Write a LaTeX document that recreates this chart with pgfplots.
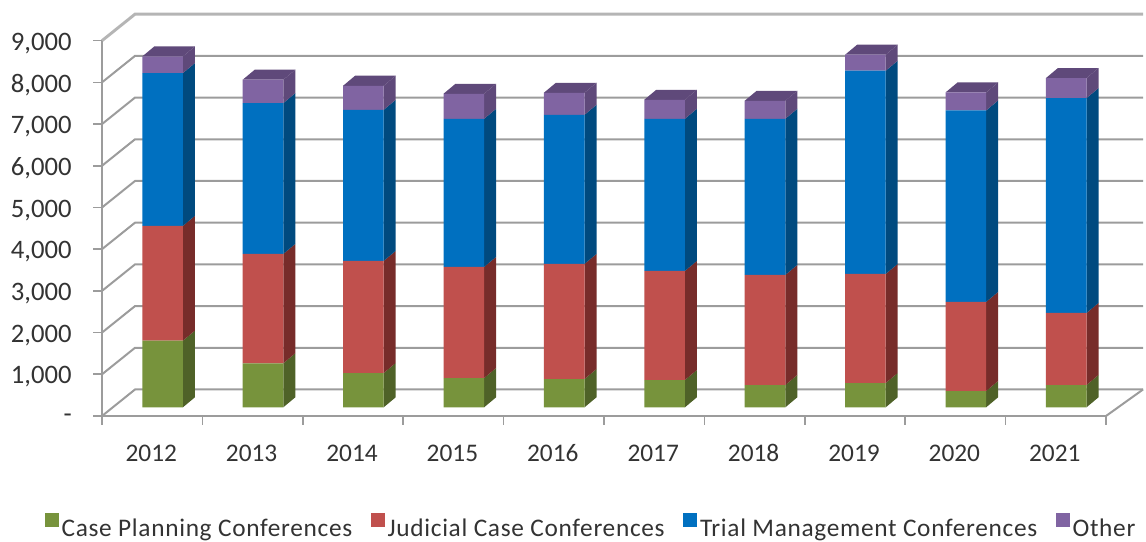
\documentclass[border=0pt]{standalone}
\usepackage{pgfplots}
\pgfplotsset{compat=1.18}
\usepackage{pgfplotstable}
\usepackage{fontspec}
\setmainfont{Carlito}
\newfontfamily\legfont[LetterSpace=2.7]{Carlito}

\definecolor{grn}{HTML}{77933C}\definecolor{grnS}{HTML}{4F6228}
\definecolor{rd}{HTML}{C0504D}\definecolor{rdS}{HTML}{772C2A}
\definecolor{blu}{HTML}{0070C0}\definecolor{bluS}{HTML}{004A7F}
\definecolor{prp}{HTML}{8064A2}\definecolor{prpS}{HTML}{5F497A}
\definecolor{wall}{HTML}{9C9C9C}

\pgfplotstableread{
year  plan  judicial trial other
2012  1598  2753     3664  399
2013  1056  2623     3616  560
2014  823   2688     3624  576
2015  703   2664     3552  600
2016  679   2760     3576  528
2017  655   2616     3648  456
2018  535   2640     3744  432
2019  583   2616     4872  384
2020  391   2136     4591  432
2021  535   1728     5152  480
}\conf

% side face of one stacked segment, from lo to hi at category #1
\newcommand\sideface[4]{%
  \pgfmathsetmacro\xa{#1+0.2022}\pgfmathsetmacro\xb{#1+0.3217}%
  \pgfmathsetmacro\ya{#2+240}\pgfmathsetmacro\yb{#3+240}%
  \edef\tmp{\noexpand\addplot[barshift,fill=#4,draw=none] coordinates
    {(\xa,#2) (\xb,\ya) (\xb,\yb) (\xa,#3)} --cycle;}\tmp}
\newcommand\topface[3]{% category, total, colour
  \pgfmathsetmacro\xa{#1-0.2022}\pgfmathsetmacro\xb{#1+0.2022}\pgfmathsetmacro\xc{#1+0.3217}%
  \pgfmathsetmacro\xd{#1-0.0827}\pgfmathsetmacro\ya{#2+240}%
  \edef\tmp{\noexpand\addplot[barshift,fill=#3,draw=none] coordinates
    {(\xa,#2) (\xb,#2) (\xc,\ya) (\xd,\ya)} --cycle;}\tmp}

\pgfplotsset{
  barshift/.style={xshift=7.8pt,yshift=6.5pt},
  common/.style={
    scale only axis, width=753pt, height=281.5pt,
    xmin=2011.5, xmax=2021.5, ymin=0, ymax=9000, clip=false,
  },
}

\begin{document}
\begin{tikzpicture}
\path[use as bounding box] (-76.5pt,-94.5pt) rectangle (783pt,312pt);

% walls and the depth of the bars
\begin{axis}[common, hide axis]
  \pgfplotsinvokeforeach{0,1000,...,8000}{
    \pgfmathsetmacro\yy{#1+636}
    \edef\tmp{\noexpand\addplot[wall,line width=1.5pt] coordinates {(2011.5,#1) (2011.829,\yy) (2021.869,\yy)};}\tmp
  }
  \addplot[wall!75,line width=2.2pt] coordinates {(2011.5,9000) (2011.829,9636) (2021.869,9636)};
  \addplot[wall,line width=1.5pt] coordinates {(2021.5,0) (2021.869,636)};
  \pgfplotsforeachungrouped \r in {0,...,9}{
    \pgfplotstablegetelem{\r}{year}\of\conf\let\yr\pgfplotsretval
    \pgfplotstablegetelem{\r}{plan}\of\conf\let\va\pgfplotsretval
    \pgfplotstablegetelem{\r}{judicial}\of\conf\let\vb\pgfplotsretval
    \pgfplotstablegetelem{\r}{trial}\of\conf\let\vc\pgfplotsretval
    \pgfplotstablegetelem{\r}{other}\of\conf\let\vd\pgfplotsretval
    \pgfmathsetmacro\sa{\va}
    \pgfmathsetmacro\sb{\sa+\vb}
    \pgfmathsetmacro\sc{\sb+\vc}
    \pgfmathsetmacro\sd{\sc+\vd}
    \sideface{\yr}{0}{\sa}{grnS}
    \sideface{\yr}{\sa}{\sb}{rdS}
    \sideface{\yr}{\sb}{\sc}{bluS}
    \sideface{\yr}{\sc}{\sd}{prpS}
    \topface{\yr}{\sd}{prpS}
  }
\end{axis}

% front faces, axes and legend
\begin{axis}[common,
  ybar stacked, bar width=30.45pt,
  axis x line*=bottom, axis y line*=left,
  axis line style={wall,line width=1.5pt},
  xtick={2012,...,2021},
  xticklabels={2012,2013,2014,2015,2016,2017,2018,2019,2020,2021},
  minor xtick={2011.5,2012.5,...,2021.5},
  major x tick style={draw=none},
  minor x tick style={draw=wall,line width=1.2pt},
  minor tick length=6.75pt,
  ytick={0,1000,...,9000},
  yticklabels={{-\hspace{22pt}},{1,000},{2,000},{3,000},{4,000},{5,000},{6,000},{7,000},{8,000},{9,000}},
  y tick style={wall,line width=1.2pt},
  major tick length=6.75pt,
  tick align=outside,
  x tick label style={font=\fontsize{19}{22}\selectfont,text=black!80,text height=12.5pt,text depth=0pt,yshift=-11.5pt,xshift=-0.7pt},
  y tick label style={font=\fontsize{20}{23}\selectfont,text=black!80,yshift=-2pt,xshift=-12.5pt},
  legend columns=4,
  legend style={draw=none,fill=none,at={(axis cs:2011.5,0)},anchor=north west,
    xshift=-46pt,yshift=-70.5pt,font=\legfont\fontsize{19}{22}\selectfont,text=black!80,
    /tikz/every even column/.append style={column sep=12pt}},
  legend image code/.code={\fill[#1] (0pt,-5.25pt) rectangle (10.5pt,5.25pt);},
]
  \addplot[barshift,fill=grn,draw=none] table[x=year,y=plan] {\conf};
  \addplot[barshift,fill=rd,draw=none] table[x=year,y=judicial] {\conf};
  \addplot[barshift,fill=blu,draw=none] table[x=year,y=trial] {\conf};
  \addplot[barshift,fill=prp,draw=none] table[x=year,y=other] {\conf};
  \legend{Case Planning Conferences,Judicial Case Conferences,Trial Management Conferences,Other}
\end{axis}
\end{tikzpicture}
\end{document}
